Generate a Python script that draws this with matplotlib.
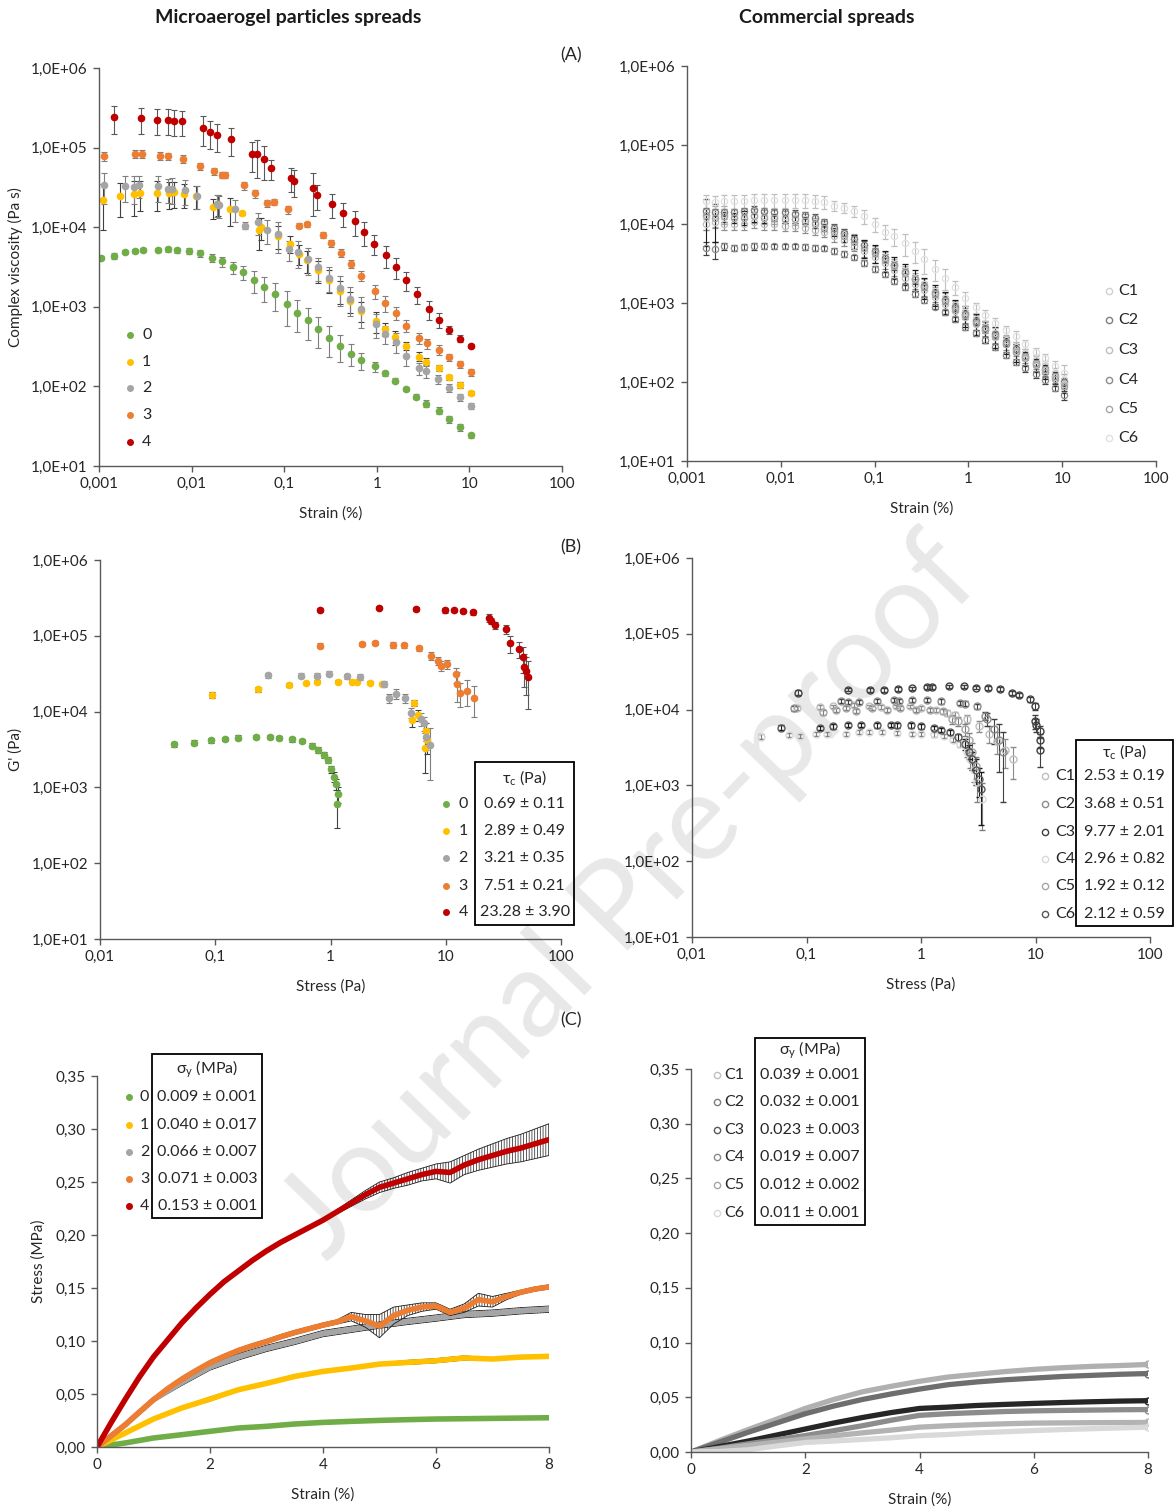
import matplotlib
matplotlib.use("Agg")
import matplotlib.pyplot as plt
from matplotlib.patches import Rectangle
from matplotlib.ticker import FixedLocator, NullLocator

plt.rcParams['font.family'] = ['Lato', 'DejaVu Sans']
plt.rcParams['mathtext.fontset'] = 'custom'
plt.rcParams['mathtext.rm'] = 'Lato'
plt.rcParams['mathtext.it'] = 'Lato:italic'
plt.rcParams['mathtext.bf'] = 'Lato:bold'
plt.rcParams['hatch.linewidth'] = 0.5

# ---------------- DATA ----------------
samples = ['0', '1', '2', '3', '4']
sample_colors = ['#70ad47', '#ffc000', '#a5a5a5', '#ed7d31', '#c00000']
commercial = ['C1', 'C2', 'C3', 'C4', 'C5', 'C6']

# (A) left: complex viscosity vs strain
a_x0 = [0.00104, 0.00146, 0.00193, 0.00243, 0.00299, 0.00435, 0.0056, 0.00694, 0.00946, 0.0122, 0.0166, 0.0213,
        0.0277, 0.0357, 0.0473, 0.061, 0.0791, 0.108, 0.139, 0.179, 0.232, 0.308, 0.400, 0.525, 0.681, 0.946, 1.23,
        1.58, 2.06, 2.67, 3.41, 4.65, 5.98, 7.91, 10.3]
a_y0 = [4160, 4410, 4860, 5000, 5200, 5200, 5250, 5150, 5000, 4720, 4160, 3710, 3120, 2700, 2140, 1760, 1440, 1080,
        847, 679, 528, 407, 323, 258, 213, 178, 146, 118, 92, 74.5, 60.8, 49.7, 39.0, 30.6, 24.3]
a_e0 = [150, 400, 250, 300, 350, 300, 350, 400, 450, 500, 500, 550, 550, 550, 650, 600, 550, 500, 370, 300, 220, 170,
        120, 80, 50, 25, 10, 8, 5, 5, 6, 5, 4, 3, 2]
a_x1 = [0.00110, 0.00167, 0.00237, 0.00275, 0.00427, 0.00576, 0.00644, 0.00822, 0.0111, 0.0171, 0.0191, 0.0262,
        0.0351, 0.0535, 0.0555, 0.0853, 0.115, 0.146, 0.175, 0.232, 0.302, 0.400, 0.514, 0.669, 0.991, 1.23, 1.58,
        2.06, 2.83, 3.41, 4.65, 6.03, 7.91, 10.3]
a_y1 = [22100, 24400, 26000, 26800, 26800, 26800, 27300, 26300, 24800, 17700, 19700, 16900, 14900, 9100, 9930, 7800,
        6180, 4630, 3890, 2910, 2180, 1600, 1190, 898, 672, 528, 415, 323, 237, 205, 169, 130, 104, 83.5]
a_e1 = [13000, 11000, 12000, 11000, 11000, 10000, 10000, 9000, 8000, 5000, 6000, 6500, 800, 4000, 3000, 2500, 1500,
        1300, 1200, 900, 700, 500, 350, 250, 200, 100, 80, 40, 30, 20, 15, 10, 8, 5]
a_x2 = [0.00112, 0.00193, 0.00237, 0.00272, 0.00435, 0.0056, 0.00614, 0.00853, 0.0113, 0.0189, 0.0200, 0.0296,
        0.0378, 0.0525, 0.0644, 0.0853, 0.112, 0.140, 0.180, 0.232, 0.308, 0.400, 0.519, 0.681, 0.973, 1.23, 1.61,
        2.06, 2.83, 3.41, 4.56, 5.97, 7.91, 10.3]
a_y2 = [33500, 32500, 31600, 33500, 32500, 30400, 30400, 29000, 24800, 19300, 18900, 16700, 10500, 11500, 9190, 8190,
        5300, 4860, 4040, 3120, 2330, 1710, 1260, 942, 610, 457, 366, 242, 169, 154, 123, 95.7, 73.0, 57.4]
a_e2 = [14000, 12000, 12000, 10000, 12000, 10000, 11000, 10000, 8000, 6000, 6000, 5000, 1000, 3500, 3000, 3500, 1500,
        1800, 1500, 1000, 800, 700, 500, 400, 200, 120, 100, 60, 30, 25, 15, 10, 8, 5]
a_x3 = [0.00114, 0.00243, 0.00293, 0.00456, 0.0056, 0.00814, 0.0122, 0.0174, 0.0213, 0.0228, 0.0367, 0.0486, 0.0644,
        0.0769, 0.110, 0.146, 0.175, 0.260, 0.322, 0.415, 0.529, 0.681, 0.964, 1.23, 1.61, 2.06, 2.83, 3.51, 4.65,
        6.03, 7.91, 10.3]
a_y3 = [77500, 83700, 83700, 79000, 77500, 72400, 58000, 50200, 45200, 45200, 33500, 26600, 19900, 20900, 16700,
        10500, 10900, 8020, 6300, 4770, 3470, 2470, 1560, 1120, 831, 581, 403, 349, 290, 232, 190, 151]
a_e3 = [10000, 10000, 10000, 9000, 8000, 8000, 6000, 5000, 4000, 4000, 4000, 3000, 2000, 2000, 2000, 800, 800, 600,
        600, 500, 400, 350, 300, 250, 150, 100, 60, 50, 40, 25, 20, 15]
a_x4 = [0.00146, 0.00283, 0.00427, 0.0056, 0.00644, 0.00784, 0.0134, 0.0157, 0.0189, 0.0267, 0.0451, 0.0514, 0.0609,
        0.0714, 0.118, 0.128, 0.206, 0.228, 0.331, 0.435, 0.575, 0.728, 0.937, 1.25, 1.63, 2.09, 2.70, 3.67, 4.65,
        5.97, 7.91, 10.3]
a_y4 = [240000, 233000, 224000, 224000, 218000, 213000, 176000, 157000, 142000, 128000, 83000, 83800, 72400, 54700,
        41800, 37900, 31000, 25300, 19500, 15000, 11800, 8670, 6240, 4450, 3150, 2160, 1430, 933, 685, 518, 399, 323]
a_e4 = [90000, 85000, 80000, 80000, 80000, 75000, 70000, 60000, 55000, 50000, 33000, 42000, 33000, 15000, 14000,
        14000, 17000, 9000, 6500, 5000, 4000, 2800, 1800, 1400, 900, 600, 350, 250, 150, 60, 40, 20]

# (A) right: commercial spreads, complex viscosity (relative errors)
ac_x = [0.0016, 0.0020, 0.0025, 0.0032, 0.0041, 0.0052, 0.0067, 0.0085, 0.011, 0.014, 0.018, 0.023, 0.029, 0.037,
        0.047, 0.061, 0.078, 0.10, 0.13, 0.16, 0.21, 0.27, 0.34, 0.44, 0.56, 0.72, 0.92, 1.2, 1.5, 1.9, 2.5, 3.2,
        4.0, 5.2, 6.6, 8.4, 10.5]
ac_y1 = [12000, 13000, 13500, 13000, 13000, 13000, 12500, 12500, 12500, 12000, 11500, 10500, 9500, 8500, 7500, 6500,
         5500, 4600, 3800, 3100, 2550, 2100, 1750, 1400, 1150, 930, 760, 620, 500, 420, 340, 280, 230, 190, 160, 130, 105]
ac_y2 = [14500, 14000, 14000, 14000, 14500, 15000, 14500, 14000, 14000, 13500, 13000, 12000, 10500, 9000, 7800, 6500,
         5500, 4500, 3700, 3000, 2500, 2000, 1650, 1350, 1100, 880, 720, 590, 480, 400, 320, 260, 215, 175, 145, 120, 100]
ac_y3 = [10000, 10500, 10000, 10000, 10000, 10500, 10000, 10000, 9500, 9500, 9000, 8500, 8000, 7000, 6200, 5300,
         4500, 3800, 3200, 2600, 2100, 1750, 1450, 1200, 980, 800, 660, 540, 450, 370, 300, 250, 205, 170, 140, 115, 95]
ac_y4 = [5000, 4800, 5200, 5000, 5100, 5200, 5300, 5200, 5200, 5200, 5100, 5000, 4900, 4600, 4200, 3800, 3200, 2700,
         2300, 1900, 1600, 1300, 1100, 900, 760, 620, 500, 420, 340, 280, 220, 180, 150, 125, 105, 85, 68]
ac_y5 = [13000, 12000, 12500, 12000, 12000, 12500, 12000, 12000, 11500, 11500, 11000, 10000, 9000, 8000, 7000, 6000,
         5000, 4300, 3500, 2900, 2400, 2000, 1600, 1300, 1050, 850, 700, 560, 450, 380, 300, 240, 200, 165, 135, 110, 90]
ac_y6 = [19500, 19000, 19500, 19500, 19500, 20000, 20000, 20000, 20000, 20000, 20000, 19500, 19000, 17000, 16000,
         14500, 12500, 10000, 8000, 7000, 5700, 4600, 3600, 2700, 2100, 1600, 1150, 880, 700, 560, 450, 380, 300, 240,
         200, 160, 130]
ac_r1 = [0.3, 0.3, 0.25, 0.2, 0.2, 0.2, 0.2, 0.2, 0.18, 0.18, 0.18, 0.15, 0.15, 0.15, 0.15, 0.15, 0.15, 0.15, 0.15,
         0.15, 0.15, 0.15, 0.15, 0.15, 0.15, 0.15, 0.15, 0.15, 0.15, 0.15, 0.15, 0.15, 0.15, 0.15, 0.15, 0.15, 0.2]
ac_r2 = [0.1, 0.1, 0.1, 0.1, 0.1, 0.12, 0.1, 0.1, 0.1, 0.1, 0.1, 0.1, 0.1, 0.1, 0.1, 0.1, 0.1, 0.12, 0.12, 0.12,
         0.12, 0.12, 0.12, 0.12, 0.12, 0.12, 0.12, 0.12, 0.12, 0.12, 0.12, 0.12, 0.12, 0.12, 0.12, 0.12, 0.12]
ac_r3 = [0.15, 0.15, 0.15, 0.15, 0.15, 0.15, 0.15, 0.15, 0.15, 0.15, 0.15, 0.15, 0.15, 0.15, 0.15, 0.15, 0.15, 0.15,
         0.15, 0.15, 0.15, 0.15, 0.15, 0.15, 0.15, 0.15, 0.15, 0.15, 0.15, 0.15, 0.15, 0.15, 0.15, 0.15, 0.15, 0.15, 0.15]
ac_r4 = [0.2, 0.25, 0.1, 0.08, 0.08, 0.1, 0.08, 0.08, 0.08, 0.08, 0.08, 0.08, 0.08, 0.08, 0.08, 0.08, 0.08, 0.08,
         0.08, 0.08, 0.08, 0.08, 0.08, 0.08, 0.08, 0.08, 0.08, 0.08, 0.08, 0.08, 0.08, 0.1, 0.1, 0.1, 0.1, 0.1, 0.12]
ac_r5 = [0.6, 0.5, 0.15, 0.15, 0.2, 0.15, 0.15, 0.1, 0.1, 0.1, 0.1, 0.1, 0.1, 0.12, 0.15, 0.2, 0.25, 0.25, 0.3, 0.3,
         0.3, 0.3, 0.3, 0.3, 0.3, 0.3, 0.3, 0.3, 0.3, 0.3, 0.25, 0.25, 0.2, 0.2, 0.2, 0.2, 0.2]
ac_r6 = [0.2, 0.2, 0.2, 0.2, 0.2, 0.2, 0.2, 0.2, 0.2, 0.2, 0.2, 0.18, 0.18, 0.15, 0.15, 0.15, 0.2, 0.2, 0.2, 0.25,
         0.3, 0.3, 0.35, 0.3, 0.3, 0.2, 0.2, 0.15, 0.15, 0.15, 0.15, 0.15, 0.12, 0.12, 0.12, 0.15, 0.25]

# (B) left: G' vs stress
b_x0 = [0.0440, 0.0651, 0.0927, 0.1216, 0.156, 0.224, 0.298, 0.360, 0.464, 0.569, 0.692, 0.786, 0.880, 0.955, 1.007,
        1.07, 1.12, 1.17, 1.15]
b_y0 = [3720, 3910, 4200, 4370, 4550, 4600, 4650, 4500, 4330, 4150, 3570, 3130, 2690, 2290, 1740, 1390, 1110, 815, 608]
b_e0 = [300, 300, 300, 300, 300, 300, 300, 300, 300, 250, 250, 250, 250, 220, 200, 200, 180, 200, 320]
b_x1 = [0.0935, 0.234, 0.440, 0.613, 0.769, 1.17, 1.54, 1.69, 2.22, 2.82, 5.28, 5.69, 5.08, 6.71, 6.81, 6.61]
b_y1 = [16800, 19900, 22300, 23900, 24900, 24900, 24900, 24900, 24200, 23200, 13000, 9060, 7700, 5630, 4240, 3360]
b_e1 = [1500, 1500, 1200, 1000, 1000, 1000, 1000, 1000, 1000, 1000, 1200, 1500, 1500, 1500, 1500, 1800]
b_x2 = [0.285, 0.560, 0.757, 0.963, 1.40, 1.80, 2.89, 3.24, 3.68, 4.44, 5.04, 6.14, 6.46, 6.71, 7.23]
b_y2 = [30200, 29900, 29900, 31800, 29300, 28700, 23400, 15000, 17100, 15000, 9620, 7940, 7030, 4600, 3640]
b_e2 = [2500, 2500, 2500, 2500, 2500, 2500, 2000, 2000, 2500, 2000, 1500, 1500, 1500, 1500, 2400]
b_x3 = [0.816, 1.87, 2.45, 3.46, 4.34, 5.90, 7.51, 8.61, 9.07, 10.3, 12.2, 12.5, 13.2, 15.4, 17.5]
b_y3 = [74300, 78100, 79700, 75800, 75000, 68500, 54900, 46600, 40500, 42100, 31100, 23400, 17500, 18800, 15000]
b_e3 = [5000, 5000, 5000, 6000, 5000, 5000, 7000, 6000, 6000, 6000, 7000, 10000, 6000, 7000, 6500]
b_x4 = [0.816, 2.62, 5.56, 9.93, 11.7, 14.0, 17.3, 23.6, 24.5, 26.6, 33.3, 36.2, 43.1, 46.4, 48.2, 49.3, 52.0]
b_y4 = [219000, 235000, 228000, 217000, 217000, 213000, 204000, 172000, 159000, 139000, 122000, 79700, 67100, 52200,
        39300, 34800, 28700]
b_e4 = [15000, 12000, 15000, 15000, 12000, 12000, 15000, 20000, 15000, 15000, 15000, 20000, 16000, 20000, 18000,
        18000, 18000]
tau_c = ['0.69 ± 0.11', '2.89 ± 0.49', '3.21 ± 0.35', '7.51 ± 0.21', '23.28 ± 3.90']

# (B) right: commercial spreads
bc_x1 = [0.082, 0.13, 0.17, 0.26, 0.35, 0.45, 0.6, 0.8, 1.0, 1.35, 1.7, 2.0, 2.5, 3.2, 3.9, 4.6, 5.4, 6.3]
bc_y1 = [10500, 10800, 11000, 11500, 11000, 10800, 11000, 11000, 10500, 10000, 9000, 8500, 7500, 6000, 4800, 3800,
         2900, 2200]
bc_e1 = [600, 600, 600, 600, 600, 600, 600, 600, 600, 600, 800, 800, 900, 1000, 1200, 1200, 1200, 1000]
bc_x2 = [0.078, 0.20, 0.23, 0.29, 0.41, 0.58, 0.64, 0.84, 1.12, 1.5, 2.2, 2.4, 3.1, 3.6, 3.8, 4.3, 4.8, 5.2]
bc_y2 = [10500, 13000, 12500, 12700, 13000, 13500, 13000, 13500, 13500, 12800, 12300, 12000, 11000, 8200, 7500, 5500,
         4000, 2800]
bc_e2 = [800, 800, 800, 800, 800, 800, 800, 800, 800, 800, 800, 800, 800, 1000, 1500, 2000, 2500, 2200]
bc_x3 = [0.0845, 0.232, 0.358, 0.473, 0.624, 0.829, 1.12, 1.24, 1.75, 2.37, 3.01, 3.85, 4.93, 6.27, 7.11, 8.91, 9.82,
         9.90, 10.0, 10.9, 11.0, 11.05]
bc_y3 = [16800, 18400, 18000, 18000, 18600, 19100, 19900, 19900, 20300, 20300, 19500, 19300, 18700, 16400, 15500,
         13700, 11200, 7060, 6250, 5200, 3950, 2970]
bc_e3 = [1200, 1000, 1000, 1000, 1000, 1000, 1000, 1000, 1000, 1000, 1000, 1000, 1000, 1000, 1000, 1000, 1200, 1500,
         1200, 800, 800, 1200]
bc_x4 = [0.040, 0.070, 0.087, 0.12, 0.15, 0.22, 0.29, 0.35, 0.46, 0.62, 0.83, 1.0, 1.3, 1.6, 1.9, 2.2, 2.5, 2.7, 2.9,
         3.1, 3.4]
bc_y4 = [4400, 4600, 4500, 4800, 4800, 4800, 5000, 5000, 5000, 4900, 4800, 4800, 4700, 4500, 4000, 3500, 2800, 2200,
         1600, 1100, 660]
bc_e4 = [300, 300, 300, 300, 300, 300, 300, 300, 300, 300, 300, 300, 300, 300, 300, 300, 400, 500, 500, 500, 400]
bc_x5 = [0.14, 0.18, 0.22, 0.27, 0.37, 0.5, 0.66, 0.9, 1.2, 1.55, 1.85, 2.1, 2.4, 2.6, 2.8, 3.0]
bc_y5 = [9200, 9800, 10500, 9500, 10500, 10000, 10500, 10000, 10000, 9500, 7500, 7000, 5500, 4000, 2800, 1800]
bc_e5 = [600, 600, 600, 600, 600, 600, 600, 600, 600, 800, 1000, 1000, 1000, 900, 800, 600]
bc_x6 = [0.060, 0.13, 0.17, 0.23, 0.30, 0.41, 0.55, 0.62, 0.82, 1.0, 1.3, 1.5, 1.8, 2.1, 2.4, 2.6, 2.8, 3.0, 3.2, 3.35]
bc_y6 = [5800, 5700, 6000, 6300, 6300, 6200, 6300, 6200, 6200, 6000, 5700, 5400, 5000, 4300, 3500, 2800, 2200, 1600,
         1200, 900]
bc_e6 = [400, 400, 400, 400, 400, 400, 400, 400, 400, 400, 400, 400, 400, 500, 600, 600, 600, 600, 500, 600]
tau_c_com = ['2.53 ± 0.19', '3.68 ± 0.51', '9.77 ± 2.01', '2.96 ± 0.82', '1.92 ± 0.12', '2.12 ± 0.59']

# (C) left: stress-strain
c_xf = [0, 0.25, 0.5, 0.75, 1, 1.25, 1.5, 1.75, 2, 2.25, 2.5, 2.75, 3, 3.25, 3.5, 3.75, 4, 4.25, 4.5, 4.75, 5, 5.25,
        5.5, 5.75, 6, 6.25, 6.5, 6.75, 7, 7.25, 7.5, 7.75, 8]
c_xh = [0, 0.5, 1, 1.5, 2, 2.5, 3, 3.5, 4, 4.5, 5, 5.5, 6, 6.5, 7, 7.5, 8]
c_y0 = [0, 0.0038, 0.0085, 0.0116, 0.0148, 0.0179, 0.0195, 0.0217, 0.0232, 0.0242, 0.0251, 0.0258, 0.0264, 0.0267,
        0.027, 0.0273, 0.0276]
c_e0 = [0, 0.0005, 0.0005, 0.0005, 0.0005, 0.0005, 0.0005, 0.0005, 0.0005, 0.0005, 0.0005, 0.0005, 0.0005, 0.0005,
        0.0005, 0.0005, 0.0005]
c_y1 = [0, 0.0132, 0.0264, 0.0368, 0.0452, 0.054, 0.060, 0.0666, 0.0713, 0.0745, 0.0782, 0.0798, 0.0814, 0.084,
        0.083, 0.0848, 0.0855]
c_e1 = [0, 0.001, 0.001, 0.001, 0.002, 0.001, 0.001, 0.001, 0.001, 0.001, 0.001, 0.002, 0.002, 0.002, 0.001, 0.001,
        0.001]
c_y2 = [0, 0.021, 0.0446, 0.061, 0.0755, 0.085, 0.093, 0.0996, 0.107, 0.111, 0.115, 0.1185, 0.1216, 0.125, 0.1263,
        0.1285, 0.130]
c_e2 = [0, 0.001, 0.002, 0.003, 0.003, 0.003, 0.003, 0.003, 0.003, 0.003, 0.003, 0.003, 0.003, 0.003, 0.003, 0.003,
        0.003]
c_y3 = [0, 0.0105, 0.021, 0.033, 0.0446, 0.055, 0.064, 0.072, 0.0795, 0.0855, 0.091, 0.0955, 0.0995, 0.104, 0.108,
        0.1115, 0.115, 0.118, 0.123, 0.119, 0.114, 0.124, 0.129, 0.132, 0.133, 0.127, 0.131, 0.139, 0.137, 0.142,
        0.146, 0.149, 0.151]
c_e3 = [0, 0, 0, 0.001, 0.001, 0.001, 0.002, 0.002, 0.002, 0.002, 0.002, 0.002, 0.002, 0.002, 0.002, 0.002, 0.002,
        0.002, 0.004, 0.006, 0.011, 0.008, 0.005, 0.004, 0.003, 0.003, 0.004, 0.006, 0.005, 0.003, 0.002, 0.002, 0.002]
c_y4 = [0, 0.023, 0.045, 0.066, 0.085, 0.101, 0.117, 0.131, 0.144, 0.156, 0.166, 0.176, 0.185, 0.193, 0.200, 0.207,
        0.214, 0.222, 0.230, 0.238, 0.245, 0.249, 0.253, 0.257, 0.260, 0.259, 0.266, 0.271, 0.275, 0.279, 0.282,
        0.286, 0.290]
c_e4 = [0, 0, 0, 0, 0, 0, 0, 0, 0, 0, 0, 0, 0, 0, 0, 0, 0.001, 0.002, 0.003, 0.004, 0.005, 0.005, 0.006, 0.006, 0.007,
        0.010, 0.009, 0.010, 0.011, 0.012, 0.013, 0.014, 0.015]
sigma_y = ['0.009 ± 0.001', '0.040 ± 0.017', '0.066 ± 0.007', '0.071 ± 0.003', '0.153 ± 0.001']

# (C) right: commercial stress-strain
cc_y1 = [0, 0.0105, 0.0205, 0.030, 0.0398, 0.048, 0.055, 0.060, 0.0646, 0.0685, 0.071, 0.0735, 0.0755, 0.077,
         0.0782, 0.079, 0.080]
cc_y2 = [0, 0.009, 0.018, 0.0265, 0.035, 0.042, 0.048, 0.053, 0.0575, 0.0615, 0.064, 0.066, 0.0675, 0.069, 0.070,
         0.071, 0.0717]
cc_y3 = [0, 0.005, 0.010, 0.0155, 0.021, 0.0265, 0.0315, 0.036, 0.0398, 0.041, 0.0425, 0.0435, 0.0444, 0.0452,
         0.0459, 0.0465, 0.0469]
cc_y4 = [0, 0.0035, 0.0075, 0.0112, 0.015, 0.0195, 0.024, 0.029, 0.0335, 0.035, 0.036, 0.037, 0.0376, 0.038,
         0.0383, 0.0386, 0.0388]
cc_y5 = [0, 0.003, 0.006, 0.009, 0.012, 0.0148, 0.0175, 0.020, 0.0227, 0.024, 0.025, 0.0258, 0.0264, 0.0266,
         0.0268, 0.0269, 0.027]
cc_y6 = [0, 0.0005, 0.002, 0.0055, 0.0087, 0.010, 0.0115, 0.013, 0.0149, 0.016, 0.0175, 0.0185, 0.0196, 0.0205,
         0.0213, 0.022, 0.0227]
sigma_y_com = ['0.039 ± 0.001', '0.032 ± 0.001', '0.023 ± 0.003', '0.019 ± 0.007', '0.012 ± 0.002', '0.011 ± 0.001']

log_y_labels = ['1,0E+01', '1,0E+02', '1,0E+03', '1,0E+04', '1,0E+05', '1,0E+06']
strain_log_labels = ['0,001', '0,01', '0,1', '1', '10', '100']
stress_log_labels = ['0,01', '0,1', '1', '10', '100']
lin_x_labels = ['0', '2', '4', '6', '8']
lin_y_labels = ['0,00', '0,05', '0,10', '0,15', '0,20', '0,25', '0,30', '0,35']

# ---------------- FIGURE ----------------
W, H = 1176, 1510
fig = plt.figure(figsize=(W / 100, H / 100), dpi=100)
TXT = '#262626'


def px_axes(x0, y0, x1, y1):
    ax = fig.add_axes([x0 / W, 1 - y1 / H, (x1 - x0) / W, (y1 - y0) / H])
    ax.patch.set_alpha(0)
    for s in ['top', 'right']:
        ax.spines[s].set_visible(False)
    for s in ['left', 'bottom']:
        ax.spines[s].set_color('#595959')
        ax.spines[s].set_linewidth(1.0)
    ax.tick_params(direction='out', length=4, width=1.0, color='#595959', labelsize=11,
                   labelcolor=TXT, pad=4)
    return ax


def set_log(ax, xmin, xmax, xlabels):
    ax.set_xscale('log')
    ax.set_yscale('log')
    ax.set_xlim(xmin, xmax)
    ax.set_ylim(10, 1e6)
    xt = [xmin * 10 ** i for i in range(len(xlabels))]
    ax.xaxis.set_major_locator(FixedLocator(xt))
    ax.set_xticklabels(xlabels)
    ax.xaxis.set_minor_locator(NullLocator())
    ax.yaxis.set_major_locator(FixedLocator([10, 100, 1e3, 1e4, 1e5, 1e6]))
    ax.set_yticklabels(log_y_labels)
    ax.yaxis.set_minor_locator(NullLocator())


def set_lin(ax):
    ax.set_xlim(0, 8)
    ax.set_ylim(0, 0.35)
    ax.xaxis.set_major_locator(FixedLocator([0, 2, 4, 6, 8]))
    ax.set_xticklabels(lin_x_labels)
    ax.yaxis.set_major_locator(FixedLocator([0, 0.05, 0.10, 0.15, 0.20, 0.25, 0.30, 0.35]))
    ax.set_yticklabels(lin_y_labels)


def labels(ax, xl, xly, yl=None, ylx=None):
    ax.set_xlabel(xl, fontsize=11, color=TXT)
    ax.xaxis.set_label_coords(0.5, xly)
    if yl:
        ax.set_ylabel(yl, fontsize=11, color=TXT)
        ax.yaxis.set_label_coords(ylx, 0.5)


def legend_table(ax, mk_x, lab_x, names, cols, hollow, rows_y, box=None, header=None, header_y=None,
                 values=None, val_x=None, fs=11.5):
    for i, (n, c) in enumerate(zip(names, cols)):
        if hollow:
            ax.plot([mk_x], [rows_y[i]], 'o', ms=4.5, mfc='none', mec=c, mew=1.0,
                    transform=ax.transAxes, clip_on=False)
        else:
            ax.plot([mk_x], [rows_y[i]], 'o', ms=4.0, color=c, transform=ax.transAxes, clip_on=False)
        ax.text(lab_x, rows_y[i], n, transform=ax.transAxes, ha='left', va='center', fontsize=fs, color=TXT)
        if values is not None:
            ax.text(val_x, rows_y[i], values[i], transform=ax.transAxes, ha='center', va='center',
                    fontsize=fs, color=TXT)
    if box is not None:
        ax.add_patch(Rectangle((box[0], box[1]), box[2] - box[0], box[3] - box[1], transform=ax.transAxes,
                               fill=False, ec='black', lw=1.3, clip_on=False))
        ax.text(val_x, header_y, header, transform=ax.transAxes, ha='center', va='center', fontsize=fs,
                color=TXT)


# watermark
fig.text(0.536, 0.405, 'Journal Pre-proof', rotation=46, fontsize=88, color='#e8e8e8',
         ha='center', va='center', zorder=-5)

# titles
fig.text(288 / W, 1 - 17 / H, 'Microaerogel particles spreads', ha='center', va='center', fontsize=14,
         weight='bold', color='#1a1a1a')
fig.text(827 / W, 1 - 17 / H, 'Commercial spreads', ha='center', va='center', fontsize=14,
         weight='bold', color='#1a1a1a')
for lab, yy in [('(A)', 55), ('(B)', 547), ('(C)', 1020)]:
    fig.text(571 / W, 1 - yy / H, lab, ha='center', va='center', fontsize=13, color=TXT)

ekw = dict(fmt='o', ms=4.5, elinewidth=0.8, capsize=2.3, capthick=0.8)

# ---- (A) left
ax = px_axes(99, 68, 562, 466)
set_log(ax, 0.001, 100, strain_log_labels)
a_sets = [(a_x0, a_y0, a_e0), (a_x1, a_y1, a_e1), (a_x2, a_y2, a_e2), (a_x3, a_y3, a_e3), (a_x4, a_y4, a_e4)]
a_ecol = ['#7f7f7f', '#404040', '#7f7f7f', '#7f7f7f', '#595959']
for (xx, yy, ee), c, ec in zip(a_sets, sample_colors, a_ecol):
    ax.errorbar(xx, yy, yerr=ee, color=c, mec=c, ecolor=ec, **ekw)
labels(ax, 'Strain (%)', -0.1005, 'Complex viscosity (Pa s)', -0.164)
legend_table(ax, 0.067, 0.093, samples, sample_colors, False, [0.329, 0.262, 0.195, 0.128, 0.061])

# ---- (A) right
ax = px_axes(687, 66, 1156, 461)
set_log(ax, 0.001, 100, strain_log_labels)
ac_cols = ['#d0d0d0', '#7f7f7f', '#bfbfbf', '#8c8c8c', '#a6a6a6', '#e0e0e0']
ac_ecol = ['#a6a6a6', '#595959', '#8c8c8c', '#404040', '#1a1a1a', '#bfbfbf']
for yy, rr, c, ec in zip([ac_y1, ac_y2, ac_y3, ac_y4, ac_y5, ac_y6],
                         [ac_r1, ac_r2, ac_r3, ac_r4, ac_r5, ac_r6], ac_cols, ac_ecol):
    ax.errorbar(ac_x, yy, yerr=[v * r for v, r in zip(yy, rr)], fmt='o', ms=4.5, mfc='none', mec=c, mew=0.9,
                ecolor=ec, elinewidth=0.8, capsize=2.3, capthick=0.8)
labels(ax, 'Strain (%)', -0.101)
legend_table(ax, 0.900, 0.920, commercial, ac_cols, True, [0.430, 0.356, 0.282, 0.206, 0.132, 0.057])

# ---- (B) left
ax = px_axes(100, 560, 561, 939)
set_log(ax, 0.01, 100, stress_log_labels)
b_sets = [(b_x0, b_y0, b_e0), (b_x1, b_y1, b_e1), (b_x2, b_y2, b_e2), (b_x3, b_y3, b_e3), (b_x4, b_y4, b_e4)]
b_ecol = ['#404040', '#404040', '#7f7f7f', '#7f7f7f', '#595959']
for (xx, yy, ee), c, ec in zip(b_sets, sample_colors, b_ecol):
    ax.errorbar(xx, yy, yerr=ee, color=c, mec=c, ecolor=ec, **ekw)
labels(ax, 'Stress (Pa)', -0.1055, "G' (Pa)", -0.167)
legend_table(ax, 0.751, 0.778, samples, sample_colors, False, [0.357, 0.284, 0.214, 0.141, 0.071],
             box=(0.814, 0.036, 1.029, 0.468), header=r'$\mathrm{\tau_c}$ (Pa)', header_y=0.427,
             values=tau_c, val_x=0.921)

# ---- (B) right
ax = px_axes(692, 558, 1150, 937)
set_log(ax, 0.01, 100, stress_log_labels)
bc_cols = ['#bfbfbf', '#8c8c8c', '#404040', '#d9d9d9', '#a6a6a6', '#595959']
bc_ecol = ['#8c8c8c', '#404040', '#404040', '#7f7f7f', '#7f7f7f', '#1a1a1a']
bc_sets = [(bc_x1, bc_y1, bc_e1), (bc_x2, bc_y2, bc_e2), (bc_x3, bc_y3, bc_e3), (bc_x4, bc_y4, bc_e4),
           (bc_x5, bc_y5, bc_e5), (bc_x6, bc_y6, bc_e6)]
for (xx, yy, ee), c, ec in zip(bc_sets, bc_cols, bc_ecol):
    ax.errorbar(xx, yy, yerr=ee, fmt='o', ms=5, mfc='none', mec=c, mew=1.0, ecolor=ec,
                elinewidth=0.8, capsize=2.3, capthick=0.8)
labels(ax, 'Stress (Pa)', -0.1055)
legend_table(ax, 0.771, 0.793, commercial, bc_cols, True, [0.424, 0.351, 0.278, 0.206, 0.134, 0.062],
             box=(0.839, 0.029, 1.050, 0.521), header=r'$\mathrm{\tau_c}$ (Pa)', header_y=0.490,
             values=tau_c_com, val_x=0.944)

# ---- (C) left
ax = px_axes(97, 1076, 549, 1447)
set_lin(ax)
c_sets = [(c_xh, c_y0, c_e0), (c_xh, c_y1, c_e1), (c_xh, c_y2, c_e2), (c_xf, c_y3, c_e3), (c_xf, c_y4, c_e4)]
for (xx, yy, ee), c in zip(c_sets, sample_colors):
    lo = [v - e for v, e in zip(yy, ee)]
    hi = [v + e for v, e in zip(yy, ee)]
    ax.fill_between(xx, lo, hi, facecolor='none', edgecolor='#1a1a1a', hatch='||||||', linewidth=0)
    ax.plot(xx, hi, '-', color='#1a1a1a', lw=0.6)
    ax.plot(xx, lo, '-', color='#1a1a1a', lw=0.6)
    ax.plot(xx, yy, '-', color=c, lw=4.0, solid_capstyle='round', solid_joinstyle='round')
labels(ax, 'Strain (%)', -0.108, 'Stress (MPa)', -0.113)
legend_table(ax, 0.071, 0.095, samples, sample_colors, False, [0.943, 0.868, 0.796, 0.722, 0.650],
             box=(0.122, 0.617, 0.366, 1.059), header=r'$\mathrm{\sigma_y}$ (MPa)', header_y=1.018,
             values=sigma_y, val_x=0.244)

# ---- (C) right
ax = px_axes(691, 1069, 1148, 1452)
set_lin(ax)
cc_line = ['#b0b0b0', '#6e6e6e', '#262626', '#8c8c8c', '#b3b3b3', '#d9d9d9']
for yy, c in zip([cc_y1, cc_y2, cc_y3, cc_y4, cc_y5, cc_y6], cc_line):
    ax.plot(c_xh, yy, '-', color=c, lw=3.8, solid_capstyle='round', solid_joinstyle='round')
    ax.plot(c_xh[-1:], yy[-1:], 'o', ms=5, mfc='none', mec=c, mew=1.0)
labels(ax, 'Strain (%)', -0.1044)
cc_cols = ['#bfbfbf', '#7f7f7f', '#595959', '#8c8c8c', '#a6a6a6', '#d9d9d9']
legend_table(ax, 0.056, 0.072, commercial, cc_cols, True, [0.985, 0.913, 0.841, 0.769, 0.697, 0.625],
             box=(0.139, 0.592, 0.380, 1.080), header=r'$\mathrm{\sigma_y}$ (MPa)', header_y=1.048,
             values=sigma_y_com, val_x=0.260)

fig.savefig('out.png', dpi=100)
